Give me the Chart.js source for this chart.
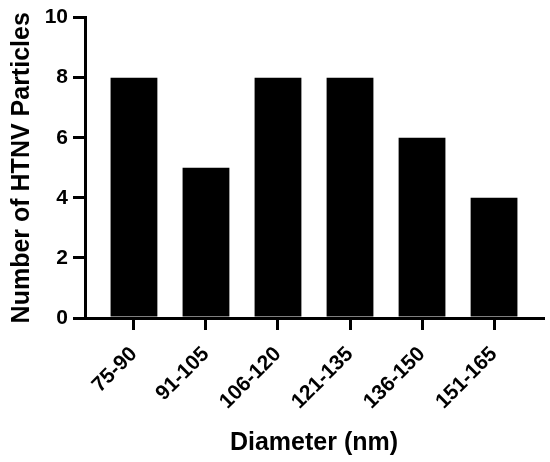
<!DOCTYPE html>
<html>
<head>
<meta charset="utf-8">
<script src="https://cdn.jsdelivr.net/npm/chart.js@4"></script>
<style>
  html, body { margin: 0; padding: 0; background: #fff; }
  #wrap { width: 550px; height: 462px; }
</style>
</head>
<body>
<div id="wrap"><canvas id="chart" width="550" height="462"></canvas></div>
<script>
// 数据
const diameterBins = ['75-90', '91-105', '106-120', '121-135', '136-150', '151-165'];
const particleCounts = [8, 5, 8, 8, 6, 4];
const yTickValues = [0, 2, 4, 6, 8, 10];

const fontFamily = "Arial, 'Liberation Sans', Helvetica, sans-serif";

const points = diameterBins.map((_, i) => ({ x: i, y: particleCounts[i] }));

new Chart(document.getElementById('chart'), {
    type: 'bar',
    data: {
        datasets: [{
            data: points,
            backgroundColor: '#000',
            borderWidth: 0,
            categoryPercentage: 1,
            barPercentage: 0.65
        }]
    },
    options: {
        responsive: false,
        animation: false,
        layout: { padding: { top: 13, right: 7, left: 0, bottom: 0 } },
        plugins: {
            legend: { display: false },
            tooltip: { enabled: false }
        },
        scales: {
            x: {
                type: 'linear',
                offset: false,
                min: -0.68,
                max: diameterBins.length - 1 + 0.68,
                afterBuildTicks: s => { s.ticks = diameterBins.map((_, i) => ({ value: i })); },
                afterFit: s => { s.height = 144; },
                border: { color: '#000', width: 3 },
                grid: { offset: false, drawOnChartArea: false, drawTicks: true, tickLength: 12, color: '#000', lineWidth: 3 },
                ticks: {
                    color: '#000',
                    maxRotation: 45,
                    minRotation: 45,
                    padding: 12,
                    font: { family: fontFamily, size: 21, weight: 'bold' },
                    callback: v => diameterBins[v]
                },
                title: {
                    display: true,
                    text: 'Diameter (nm)',
                    color: '#000',
                    font: { family: fontFamily, size: 25, weight: 'bold' },
                    padding: { top: 0, bottom: 4 }
                }
            },
            y: {
                min: 0,
                max: 10,
                afterBuildTicks: s => { s.ticks = yTickValues.map(v => ({ value: v })); },
                afterFit: s => { s.width = 85; },
                border: { color: '#000', width: 3 },
                grid: { drawOnChartArea: false, drawTicks: true, tickLength: 12, color: '#000', lineWidth: 3 },
                ticks: {
                    color: '#000',
                    padding: 5,
                    font: { family: fontFamily, size: 21, weight: 'bold' }
                },
                title: {
                    display: true,
                    text: 'Number of HTNV Particles',
                    color: '#000',
                    font: { family: fontFamily, size: 25, weight: 'bold' },
                    padding: { top: 7, bottom: 0 }
                }
            }
        }
    }
});
</script>
</body>
</html>
